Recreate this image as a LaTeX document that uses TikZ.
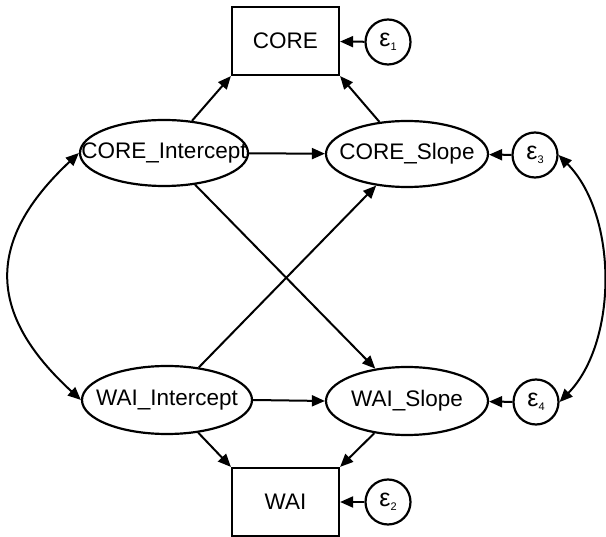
\documentclass[tikz,border=0pt]{standalone}
\usepackage{fontspec}
\setmainfont{Liberation Sans}
\usetikzlibrary{arrows.meta,shapes.geometric}
\newcommand{\eps}[1]{{\fontsize{25}{26}\selectfont ε}\raisebox{-4pt}{\fontsize{11}{12}\selectfont #1}}
\begin{document}
\begin{tikzpicture}[x=1pt,y=-1pt,
  every node/.style={font=\fontsize{22.5}{25}\selectfont, line width=2.2pt},
  obs/.style={draw, rectangle, minimum width=107pt, minimum height=68pt, inner sep=0pt},
  lat/.style={draw, ellipse, inner sep=0pt},
  err/.style={draw, circle, minimum size=45pt, inner sep=0pt},
  arr/.style={line width=2pt, -{Triangle[length=13pt,width=11pt]}},
  darr/.style={line width=2pt, {Triangle[length=13pt,width=11pt]}-{Triangle[length=13pt,width=11pt]}}
]
\useasboundingbox (0,0) rectangle (606,537);
\node[obs] (core) at (285.5,41) {CORE};
\node[obs] (wai) at (285.5,502) {WAI};
\node[lat, minimum width=168pt, minimum height=66pt] (ci) at (164,153) {\makebox[0pt][c]{CORE\_Intercept}};
\node[lat, minimum width=162pt, minimum height=66pt] (cs) at (407,154) {\makebox[0pt][c]{CORE\_Slope}};
\node[lat, minimum width=170pt, minimum height=68pt] (wi) at (167,400) {\makebox[0pt][c]{WAI\_Intercept}};
\node[lat, minimum width=162pt, minimum height=68pt] (ws) at (407,401) {\makebox[0pt][c]{WAI\_Slope}};
\node[err] (e1) at (388,42) {\eps{1}};
\node[err] (e2) at (388,502) {\eps{2}};
\node[err] (e3) at (535,155) {\eps{3}};
\node[err] (e4) at (536,402) {\eps{4}};
\draw[arr] (e1) -- (core);
\draw[arr] (e2) -- (wai);
\draw[arr] (e3) -- (cs);
\draw[arr] (e4) -- (ws);
\draw[arr] (ci) -- (core.south west);
\draw[arr] (cs) -- (core.south east);
\draw[arr] (wi) -- (wai.north west);
\draw[arr] (ws) -- (wai.north east);
\draw[arr] (ci) -- (cs);
\draw[arr] (wi.east) -- (ws.west);
\draw[arr] (ci) -- (ws);
\draw[arr] (wi) -- (cs);
\draw[darr] (ci.west) .. controls (-14,240) and (-14,313) .. (wi.west);
\draw[darr] (e3.east) .. controls (618,215) and (618,342) .. (e4.east);
\end{tikzpicture}
\end{document}
